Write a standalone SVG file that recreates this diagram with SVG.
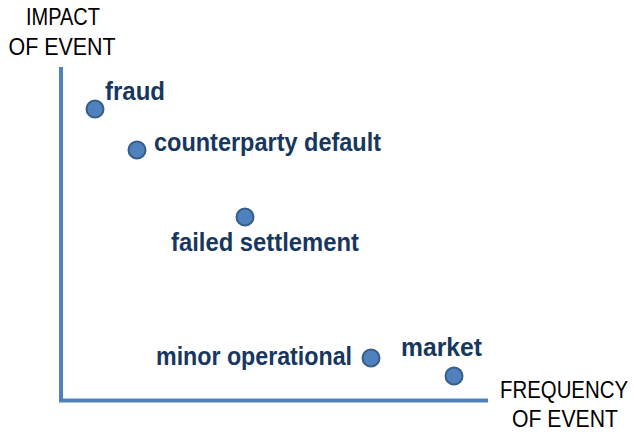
<svg xmlns="http://www.w3.org/2000/svg" width="634" height="435" viewBox="0 0 634 435">
<style>
.axis{stroke:#4F81BD;stroke-width:4;fill:none}
.dot{fill:#4F81BD;stroke:#385D8A;stroke-width:2}
.lbl{font-family:"Liberation Sans",Arial,sans-serif;font-weight:bold;font-size:25px;fill:#17375E}
.ttl{font-family:"Liberation Sans",Arial,sans-serif;font-size:23px;fill:#000}
.ttl2{font-family:"Liberation Sans",Arial,sans-serif;font-size:21px;fill:#000}
</style>
<rect width="634" height="435" fill="#fff"/>
<g id="connectors">
<path class="axis" d="M61,67 V400.5 H488"/>
</g>
<g id="y-title">
<text class="ttl" x="63" y="25" text-anchor="middle" textLength="74" lengthAdjust="spacingAndGlyphs">IMPACT</text>
<text class="ttl" x="62" y="55" text-anchor="middle" textLength="107" lengthAdjust="spacingAndGlyphs">OF EVENT</text>
</g>
<g id="x-title">
<text class="ttl2" transform="translate(564,398) scale(1,1.1)" x="0" y="0" text-anchor="middle" textLength="128" lengthAdjust="spacingAndGlyphs">FREQUENCY</text>
<text class="ttl2" transform="translate(565,427) scale(1,1.1)" x="0" y="0" text-anchor="middle" textLength="106" lengthAdjust="spacingAndGlyphs">OF EVENT</text>
</g>
<g id="fraud">
<circle class="dot" cx="95" cy="109" r="8.5"/>
<text class="lbl" x="105" y="100" textLength="60" lengthAdjust="spacingAndGlyphs">fraud</text>
</g>
<g id="counterparty-default">
<circle class="dot" cx="137" cy="150" r="8.5"/>
<text class="lbl" x="154" y="151" textLength="227" lengthAdjust="spacingAndGlyphs">counterparty default</text>
</g>
<g id="failed-settlement">
<circle class="dot" cx="245" cy="217" r="8.5"/>
<text class="lbl" x="171" y="251" textLength="188" lengthAdjust="spacingAndGlyphs">failed settlement</text>
</g>
<g id="minor-operational">
<circle class="dot" cx="371" cy="358" r="8.5"/>
<text class="lbl" x="156" y="365" textLength="196" lengthAdjust="spacingAndGlyphs">minor operational</text>
</g>
<g id="market">
<circle class="dot" cx="454" cy="376" r="8.5"/>
<text class="lbl" x="401" y="356" textLength="81" lengthAdjust="spacingAndGlyphs">market</text>
</g>
</svg>
